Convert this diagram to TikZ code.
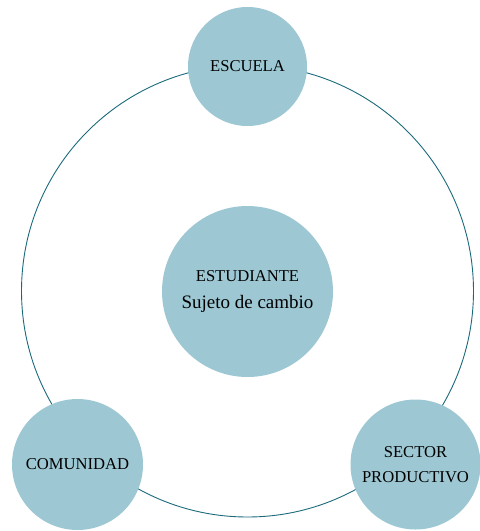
\documentclass[tikz,border=0pt]{standalone}
\usepackage{fontspec}
\setmainfont{Liberation Serif}
\definecolor{ringcol}{HTML}{1B6A7C}
\definecolor{discfill}{HTML}{9DC8D3}
\begin{document}
\begin{tikzpicture}[x=1pt,y=-1pt,
  disc/.style={circle,fill=discfill,inner sep=0pt,align=center,text=black,font=\fontsize{16.6}{25}\selectfont},
  ring/.style={circle,draw=ringcol,line width=0.9pt,inner sep=0pt}]
\useasboundingbox (0,0) rectangle (480,531);
\node[ring,minimum size=452pt] (ring) at (247.5,291) {};
\node[disc,minimum size=119pt] (escuela) at (247.5,66.5) {ESCUELA};
\node[disc,minimum size=171pt,font=\fontsize{16.6}{27}\selectfont] (estudiante) at (247.5,291.5) {ESTUDIANTE\\{\fontsize{19}{27}\selectfont Sujeto de cambio}};
\node[disc,minimum size=131pt] (comunidad) at (77.5,464.5) {COMUNIDAD};
\node[disc,minimum size=130pt] (sector) at (415.5,464.5) {SECTOR\\PRODUCTIVO};
\end{tikzpicture}
\end{document}
